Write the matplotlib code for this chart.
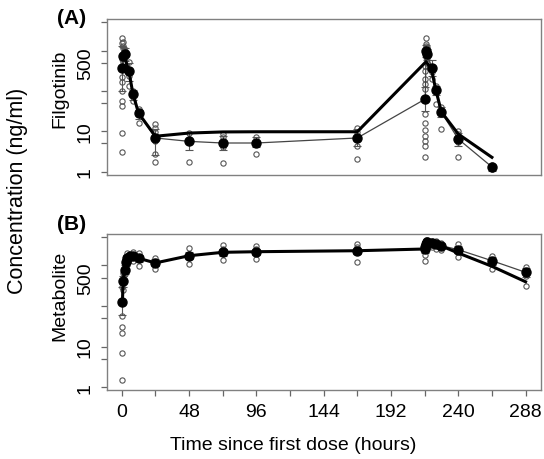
import matplotlib
matplotlib.use('Agg')
from matplotlib import pyplot as plt

plt.rcParams['font.family'] = ['Liberation Sans', 'DejaVu Sans']

# Panel A: filgotinib, observed means with error bars (hours, ng/ml)
fil_t = [0.5, 1, 2, 5, 8, 12, 24, 48, 72, 96, 168, 216.5, 217, 218, 221, 224, 228, 240, 264]
fil_mean = [364, 722, 823, 306, 82, 27.8, 6.8, 5.6, 5.1, 5.1, 6.8, 63, 995, 823, 364, 103, 29.4, 6.4, 1.3]
fil_lo = [101, 350, 550, 180, 59, 20, 2.6, 3.4, 3.4, 4.1, 4.4, 32, 700, 600, 230, 78, 22, 4.2, 1.05]
fil_hi = [1320, 1250, 1150, 500, 107, 34, 11.3, 9.0, 7.5, 7.1, 11.3, 122, 1370, 1100, 600, 135, 40, 8.9, 1.47]

# model prediction (thick line)
fil_pred_t = [0.5, 1, 2, 5, 8, 12, 24, 48, 72, 96, 168, 217, 218, 221, 224, 228, 240, 264]
fil_pred = [600, 750, 700, 320, 85, 28, 7.5, 9.0, 9.6, 9.7, 9.7, 530, 480, 330, 105, 30, 8.5, 2.25]

# individual observations (open circles)
fil_obs_t = [0.5, 0.5, 0.5, 0.5, 0.5, 0.5, 0.5, 0.5, 0.5, 0.5,
             1, 1, 1, 1, 2, 2, 5, 5, 5, 8, 8, 12, 12,
             24, 24, 24, 24, 24, 24, 48, 48, 48, 72, 72, 72, 72, 96, 96, 96,
             168, 168, 168, 168, 168,
             216.5, 216.5, 216.5, 216.5, 216.5, 216.5, 216.5, 216.5, 216.5, 216.5, 216.5, 216.5,
             217, 217, 217, 217, 218, 218, 218, 221, 221, 224, 224, 228, 228,
             240, 240, 240, 240, 264, 264]
fil_obs = [2020, 1540, 617, 216, 163, 101, 57, 41.5, 8.9, 3.1,
           1660, 1320, 1140, 518, 995, 900, 518, 238, 135, 101, 57, 35.6, 15.7,
           15.1, 11.8, 9.4, 5.8, 2.7, 1.75, 9.0, 6.4, 1.75, 8.5, 7.1, 4.0, 1.6, 7.1, 5.3, 2.8,
           11.8, 9.4, 7.5, 4.4, 2.0,
           422, 317, 197, 148, 111, 26.7, 16, 10.7, 7.7, 5.8, 4.4, 2.25,
           2050, 1500, 1300, 700, 1200, 650, 500, 290, 197, 134, 47, 11.3, 40,
           10.3, 8.5, 5.3, 2.3, 1.47, 1.15]

# Panel B: metabolite
met_t = [0.5, 1, 2, 3, 4, 6, 8, 12, 24, 48, 72, 96, 168, 216, 216.5, 217, 218, 221, 224, 228, 240, 264, 288]
met_mean = [128, 420, 784, 1190, 1500, 1690, 1690, 1500, 1150, 1730, 2100, 2175, 2300,
            2535, 2900, 3365, 3700, 3560, 3300, 3055, 2440, 1305, 676]
met_lo = [60, 300, 600, 950, 1200, 1350, 1350, 1200, 950, 1400, 1750, 1800, 1900,
          2050, 2400, 2800, 3050, 2950, 2750, 2550, 2000, 1050, 520]
met_hi = [300, 560, 1000, 1450, 1800, 2000, 2000, 1800, 1400, 2100, 2500, 2600, 2750,
          3050, 3450, 4000, 4400, 4250, 3950, 3650, 2950, 1600, 860]

met_pred_t = [0.5, 1, 2, 3, 4, 6, 8, 12, 24, 48, 72, 96, 168, 216, 216.5, 217, 218, 221, 224, 228, 240, 264, 288]
met_pred = [128, 420, 784, 1190, 1500, 1690, 1690, 1500, 1150, 1730, 2100, 2175, 2300,
            2535, 2900, 3365, 3700, 3560, 3300, 3000, 2020, 950, 395]

met_obs_t = [0.5, 0.5, 0.5, 0.5, 0.5, 0.5, 1, 1, 2, 2, 4, 4, 8, 8, 12, 12, 24, 24,
             48, 48, 48, 72, 72, 72, 96, 96, 96, 168, 168, 168, 216, 216, 216,
             217, 217, 218, 218, 221, 221, 224, 224, 228, 228, 240, 240, 264, 264, 288, 288, 288]
met_obs = [300, 58, 30, 21.6, 7, 1.5, 650, 250, 1100, 600, 2000, 1200, 2100, 1300, 2000, 985, 1500, 815,
           2650, 1900, 1080, 3170, 2500, 1360, 3050, 2600, 1440, 3365, 2800, 1190, 3700, 1800, 1305,
           4200, 2600, 4300, 3000, 4000, 2900, 3900, 2500, 3600, 2400, 3365, 1600, 1730, 815, 900, 560, 306]

W, H = 544, 460
fig = plt.figure(figsize=(W / 100, H / 100), dpi=100)
axA = fig.add_axes([107 / W, 1 - 176 / H, 434 / W, 156 / H])
axB = fig.add_axes([107 / W, 1 - 391 / H, 434 / W, 156 / H])


def draw_panel(ax, t, mean, lo, hi, pred_t, pred, obs_t, obs, ylim):
    ax.plot(obs_t, obs, 'o', mfc='none', mec='#555555', ms=3.8, mew=0.8, zorder=1)
    yerr = [[m - l for m, l in zip(mean, lo)], [h - m for m, h in zip(mean, hi)]]
    ax.errorbar(t, mean, yerr=yerr, fmt='none', ecolor='#555555', elinewidth=0.8,
                capsize=3, capthick=0.8, zorder=2)
    ax.plot(t, mean, color='#444444', lw=0.9, zorder=3)
    ax.plot(pred_t, pred, color='black', lw=2.2, zorder=4)
    ax.plot(t, mean, 'o', color='black', ms=6.5, zorder=5)
    ax.set_yscale('log')
    ax.set_ylim(*ylim)
    ax.set_xlim(-10.5, 299)
    ax.set_yticks([1, 5, 10, 50, 100, 500, 1000, 5000])
    ax.set_yticklabels(['1', '', '10', '', '', '500', '', ''], rotation=90, va='center')
    ax.minorticks_off()
    for s in ax.spines.values():
        s.set_color('#808080')
        s.set_linewidth(1)
    ax.tick_params(axis='both', length=4.5, width=0.9, color='#666666', labelsize=14, pad=5)


draw_panel(axA, fil_t, fil_mean, fil_lo, fil_hi, fil_pred_t, fil_pred, fil_obs_t, fil_obs, (0.82, 6080))
draw_panel(axB, met_t, met_mean, met_lo, met_hi, met_pred_t, met_pred, met_obs_t, met_obs, (0.85, 5940))

axA.set_xticks([])
axB.set_xticks(range(0, 289, 24))
axB.set_xticklabels([str(x) if x % 48 == 0 else '' for x in range(0, 289, 24)])

fig.text(72 / W, 1 - 18 / H, '(A)', fontsize=15, fontweight='bold', ha='center', va='center')
fig.text(72 / W, 1 - 225 / H, '(B)', fontsize=15, fontweight='bold', ha='center', va='center')
fig.text(60 / W, 1 - 89 / H, 'Filgotinib', fontsize=14, rotation=90, ha='center', va='center')
fig.text(60 / W, 1 - 296 / H, 'Metabolite', fontsize=14, rotation=90, ha='center', va='center')
fig.text(18 / W, 1 - 191 / H, 'Concentration (ng/ml)', fontsize=15.5, rotation=90, ha='center', va='center')
fig.text(293 / W, 1 - 446 / H, 'Time since first dose (hours)', fontsize=14, ha='center', va='center')

fig.savefig('out.png', dpi=100)
